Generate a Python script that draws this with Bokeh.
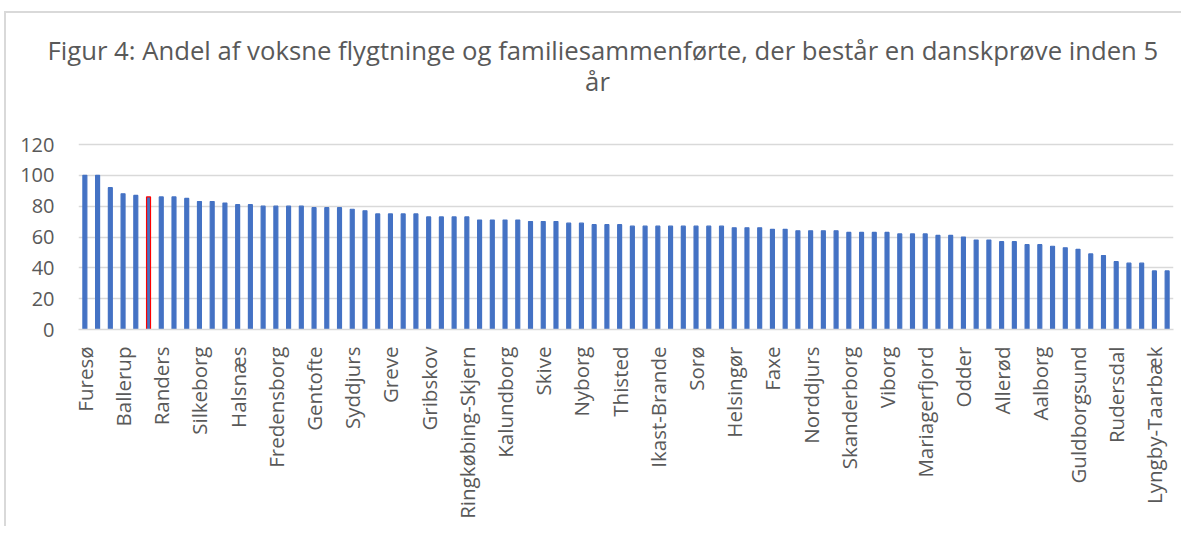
import math
from bokeh.plotting import figure
from bokeh.models import FixedTicker, ColumnDataSource, Label
from bokeh.embed import file_html
from bokeh.resources import INLINE

# Values (share in %) for 86 municipalities, sorted descending
values = [100, 100, 92, 88, 87, 86, 86, 86, 85, 83, 83, 82, 81, 81, 80, 80, 80, 80, 79, 79, 79, 78, 77, 75, 75,
          75, 75, 73, 73, 73, 73, 71, 71, 71, 71, 70, 70, 70, 69, 69, 68, 68, 68, 67, 67, 67, 67, 67, 67, 67, 67,
          66, 66, 66, 65, 65,
          64, 64, 64, 64, 63, 63, 63, 63, 62, 62, 62, 61, 61, 60, 58, 58, 57, 57, 55, 55, 54, 53, 52, 49, 48,
          44, 43, 43, 38, 38]
# Labels shown on the axis (every third bar)
labels = ["Furesø", "Ballerup", "Randers", "Silkeborg", "Halsnæs", "Fredensborg", "Gentofte", "Syddjurs",
          "Greve", "Gribskov", "Ringkøbing-Skjern", "Kalundborg", "Skive", "Nyborg", "Thisted", "Ikast-Brande",
          "Sorø", "Helsingør", "Faxe", "Norddjurs", "Skanderborg", "Viborg", "Mariagerfjord", "Odder",
          "Allerød", "Aalborg", "Guldborgsund", "Rudersdal", "Lyngby-Taarbæk"]
highlight_index = 5
y_ticks = [0, 20, 40, 60, 80, 100, 120]
title_line1 = "Figur 4: Andel af voksne flygtninge og familiesammenførte, der består en danskprøve inden 5"
title_line2 = "år"

xs = list(range(len(values)))
label_pos = list(range(0, len(values), 3))
overrides = {pos: name for pos, name in zip(label_pos, labels)}

BLUE = "#4472C4"
GRID = "#D9D9D9"
TXT = "#595959"
FONT = "Open Sans"

# Layout (pixels): plot area 64..329 vertically, 120-gridline at 144 px
FRAME_TOP = 64
FRAME_BOTTOM = 329
PX_PER_UNIT = 185 / 120
Y_TOP = (FRAME_BOTTOM - FRAME_TOP) / PX_PER_UNIT

p = figure(width=1181, height=526, output_backend="svg", toolbar_location=None,
           x_range=(-0.5, len(values) - 0.5), y_range=(0, Y_TOP),
           min_border_left=78, min_border_right=8, min_border_top=FRAME_TOP, min_border_bottom=197)
p.outline_line_color = None
p.background_fill_color = None
p.border_fill_color = None
p.styles = {
    "background": "linear-gradient(#D9D9D9, #D9D9D9) 5px 11px / 3000px 2px no-repeat, "
                  "linear-gradient(#D9D9D9, #D9D9D9) 4px 11px / 2px 3000px no-repeat, white"
}

# Title line 1 (figure title), line 2 as centered label
p.title.text = title_line1
p.title.align = "left"
p.title.text_font = FONT
p.title.text_font_size = "25.7px"
p.title.text_font_style = "normal"
p.title.text_color = TXT
p.title.standoff = -6
p.title.offset = -31

title_x = (597 - 78) / ((1173 - 78) / len(values)) - 0.5
p.add_layout(Label(x=title_x, y=(FRAME_BOTTOM - 81) / PX_PER_UNIT, text=title_line2,
                   text_align="center", text_baseline="middle",
                   text_font=FONT, text_font_size="25.7px", text_color=TXT))

colors = [BLUE] * len(values)
lines = [BLUE] * len(values)
lines[highlight_index] = "#FF0000"
src = ColumnDataSource(dict(x=xs, top=values, fill=colors, line=lines))
p.vbar(x="x", top="top", width=0.31, bottom=0, source=src, fill_color="fill", line_color="line", line_width=1.2)

p.xgrid.grid_line_color = None
p.ygrid.grid_line_color = GRID
p.ygrid.grid_line_width = 1.5
p.ygrid.ticker = FixedTicker(ticks=y_ticks)

p.yaxis.ticker = FixedTicker(ticks=y_ticks)
p.yaxis.axis_line_color = None
p.yaxis.major_tick_line_color = None
p.yaxis.minor_tick_line_color = None
p.yaxis.major_label_text_font = FONT
p.yaxis.major_label_text_font_size = "20px"
p.yaxis.major_label_text_color = TXT
p.yaxis.major_label_standoff = 18

p.xaxis.ticker = FixedTicker(ticks=label_pos)
p.xaxis.major_label_overrides = overrides
p.xaxis.major_label_orientation = math.pi / 2
p.xaxis.axis_line_color = GRID
p.xaxis.axis_line_width = 1.5
p.xaxis.major_tick_line_color = None
p.xaxis.minor_tick_line_color = None
p.xaxis.major_label_text_font = FONT
p.xaxis.major_label_text_font_size = "20.5px"
p.xaxis.major_label_text_color = TXT
p.xaxis.major_label_standoff = 11

open("out.html", "w").write(file_html(p, INLINE))
